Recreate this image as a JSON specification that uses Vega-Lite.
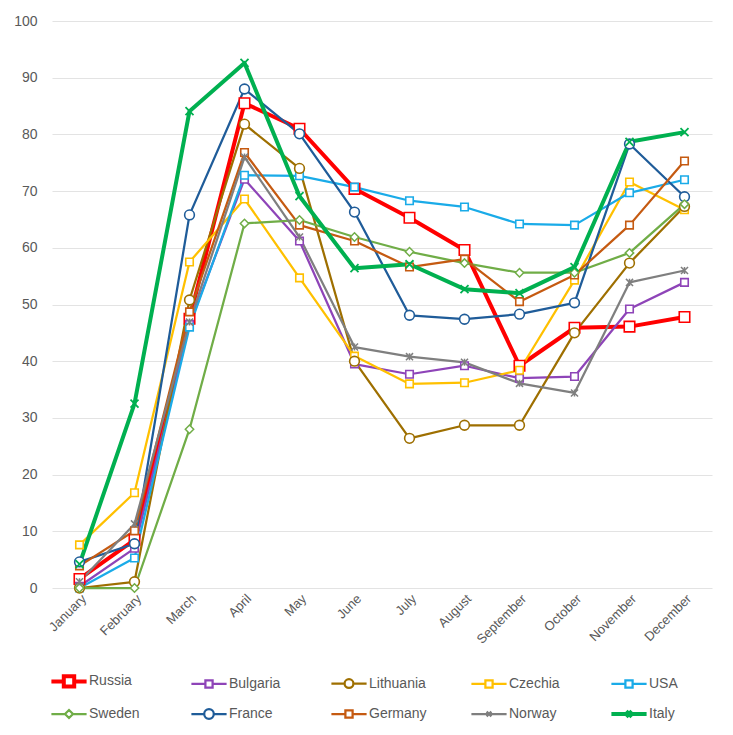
{
  "$schema": "https://vega.github.io/schema/vega-lite/v6.json",
  "width": 660,
  "height": 567,
  "autosize": "none",
  "padding": {"left": 52, "top": 21, "right": 21, "bottom": 147},
  "background": "white",
  "config": {
    "font": "Liberation Sans",
    "view": {"stroke": null},
    "axis": {"labelFont": "Liberation Sans", "labelColor": "#595959", "title": null},
    "legend": {"labelFont": "Liberation Sans", "labelFontSize": 14, "labelColor": "#595959", "symbolOpacity": 1, "symbolStrokeWidth": 2, "symbolSize": 64, "symbolFillColor": "white"}
  },
  "data": {"values": [
    {"m":"January","c":"Russia","v":1.6},{"m":"February","c":"Russia","v":8.5},{"m":"March","c":"Russia","v":47.5},{"m":"April","c":"Russia","v":85.5},{"m":"May","c":"Russia","v":81.0},{"m":"June","c":"Russia","v":70.4},{"m":"July","c":"Russia","v":65.3},{"m":"August","c":"Russia","v":59.6},{"m":"September","c":"Russia","v":39.2},{"m":"October","c":"Russia","v":45.9},{"m":"November","c":"Russia","v":46.1},{"m":"December","c":"Russia","v":47.8},
    {"m":"January","c":"Bulgaria","v":0.3},{"m":"February","c":"Bulgaria","v":7.0},{"m":"March","c":"Bulgaria","v":46.5},{"m":"April","c":"Bulgaria","v":72.1},{"m":"May","c":"Bulgaria","v":61.2},{"m":"June","c":"Bulgaria","v":39.5},{"m":"July","c":"Bulgaria","v":37.7},{"m":"August","c":"Bulgaria","v":39.2},{"m":"September","c":"Bulgaria","v":37.0},{"m":"October","c":"Bulgaria","v":37.3},{"m":"November","c":"Bulgaria","v":49.2},{"m":"December","c":"Bulgaria","v":53.9},
    {"m":"January","c":"Lithuania","v":0},{"m":"February","c":"Lithuania","v":1.1},{"m":"March","c":"Lithuania","v":50.8},{"m":"April","c":"Lithuania","v":81.8},{"m":"May","c":"Lithuania","v":74.0},{"m":"June","c":"Lithuania","v":40.0},{"m":"July","c":"Lithuania","v":26.4},{"m":"August","c":"Lithuania","v":28.7},{"m":"September","c":"Lithuania","v":28.7},{"m":"October","c":"Lithuania","v":45.0},{"m":"November","c":"Lithuania","v":57.3},{"m":"December","c":"Lithuania","v":67.3},
    {"m":"January","c":"Czechia","v":7.6},{"m":"February","c":"Czechia","v":16.8},{"m":"March","c":"Czechia","v":57.5},{"m":"April","c":"Czechia","v":68.6},{"m":"May","c":"Czechia","v":54.7},{"m":"June","c":"Czechia","v":40.9},{"m":"July","c":"Czechia","v":36.0},{"m":"August","c":"Czechia","v":36.2},{"m":"September","c":"Czechia","v":38.4},{"m":"October","c":"Czechia","v":54.3},{"m":"November","c":"Czechia","v":71.6},{"m":"December","c":"Czechia","v":66.7},
    {"m":"January","c":"USA","v":0},{"m":"February","c":"USA","v":5.3},{"m":"March","c":"USA","v":46.0},{"m":"April","c":"USA","v":72.8},{"m":"May","c":"USA","v":72.7},{"m":"June","c":"USA","v":70.7},{"m":"July","c":"USA","v":68.3},{"m":"August","c":"USA","v":67.2},{"m":"September","c":"USA","v":64.2},{"m":"October","c":"USA","v":64.0},{"m":"November","c":"USA","v":69.7},{"m":"December","c":"USA","v":72.0},
    {"m":"January","c":"Sweden","v":0},{"m":"February","c":"Sweden","v":0},{"m":"March","c":"Sweden","v":28.0},{"m":"April","c":"Sweden","v":64.3},{"m":"May","c":"Sweden","v":64.9},{"m":"June","c":"Sweden","v":61.9},{"m":"July","c":"Sweden","v":59.3},{"m":"August","c":"Sweden","v":57.3},{"m":"September","c":"Sweden","v":55.6},{"m":"October","c":"Sweden","v":55.6},{"m":"November","c":"Sweden","v":59.1},{"m":"December","c":"Sweden","v":67.7},
    {"m":"January","c":"France","v":4.6},{"m":"February","c":"France","v":7.8},{"m":"March","c":"France","v":65.8},{"m":"April","c":"France","v":88.0},{"m":"May","c":"France","v":80.1},{"m":"June","c":"France","v":66.3},{"m":"July","c":"France","v":48.1},{"m":"August","c":"France","v":47.4},{"m":"September","c":"France","v":48.3},{"m":"October","c":"France","v":50.3},{"m":"November","c":"France","v":78.3},{"m":"December","c":"France","v":69.0},
    {"m":"January","c":"Germany","v":3.9},{"m":"February","c":"Germany","v":10.1},{"m":"March","c":"Germany","v":48.7},{"m":"April","c":"Germany","v":76.8},{"m":"May","c":"Germany","v":64.0},{"m":"June","c":"Germany","v":61.2},{"m":"July","c":"Germany","v":56.6},{"m":"August","c":"Germany","v":58.0},{"m":"September","c":"Germany","v":50.5},{"m":"October","c":"Germany","v":55.2},{"m":"November","c":"Germany","v":64.0},{"m":"December","c":"Germany","v":75.3},
    {"m":"January","c":"Norway","v":1.1},{"m":"February","c":"Norway","v":11.3},{"m":"March","c":"Norway","v":46.9},{"m":"April","c":"Norway","v":76.0},{"m":"May","c":"Norway","v":61.9},{"m":"June","c":"Norway","v":42.5},{"m":"July","c":"Norway","v":40.8},{"m":"August","c":"Norway","v":39.8},{"m":"September","c":"Norway","v":36.1},{"m":"October","c":"Norway","v":34.4},{"m":"November","c":"Norway","v":53.9},{"m":"December","c":"Norway","v":56.0},
    {"m":"January","c":"Italy","v":4.2},{"m":"February","c":"Italy","v":32.5},{"m":"March","c":"Italy","v":84.1},{"m":"April","c":"Italy","v":92.6},{"m":"May","c":"Italy","v":69.1},{"m":"June","c":"Italy","v":56.4},{"m":"July","c":"Italy","v":57.1},{"m":"August","c":"Italy","v":52.7},{"m":"September","c":"Italy","v":52.0},{"m":"October","c":"Italy","v":56.6},{"m":"November","c":"Italy","v":78.7},{"m":"December","c":"Italy","v":80.4}
  ]},
  "encoding": {
    "x": {"field": "m", "type": "ordinal", "sort": ["January","February","March","April","May","June","July","August","September","October","November","December"],
      "axis": {"labelAngle": -45, "labelFontSize": 13, "domain": false, "ticks": false, "tickSize": 0, "labelPadding": 4, "grid": false}},
    "y": {"field": "v", "type": "quantitative", "scale": {"domain": [0, 100], "nice": false},
      "axis": {"values": [0,10,20,30,40,50,60,70,80,90,100], "labelFontSize": 14, "domain": false, "ticks": false, "tickSize": 0, "labelPadding": 15, "gridColor": "#E3E3E3", "gridWidth": 1}},
    "color": {"field": "c", "type": "nominal",
      "scale": {"domain": ["Russia","Bulgaria","Lithuania","Czechia","USA","Sweden","France","Germany","Norway","Italy"],
        "range": ["#FF0000","#8E44B8","#9E6F00","#FFC000","#1AABE8","#70AD47","#1F5C99","#C55A11","#7F7F7F","#00B050"]},
      "legend": {"title": null, "orient": "none", "direction": "horizontal", "legendX": 10, "legendY": 653, "columns": 5, "columnPadding": 36, "rowPadding": 8, "gridAlign": "all", "labelOffset": 13, "padding": 0}}
  },
  "layer": [
    {"mark": {"type": "line", "strokeJoin": "round"},
      "encoding": {"strokeWidth": {"field": "c", "type": "nominal", "legend": null,
        "scale": {"type": "ordinal", "domain": ["Russia","Bulgaria","Lithuania","Czechia","USA","Sweden","France","Germany","Norway","Italy"], "range": [4,2.25,2.25,2.25,2.25,2.25,2.25,2.25,2.25,4]}}}},
    {"transform": [{"filter": {"field": "c", "oneOf": ["Russia","Bulgaria","Czechia","USA","Germany"]}}],
      "mark": {"type": "point", "shape": "square", "filled": false, "fill": "white", "opacity": 1, "strokeWidth": 1.6},
      "encoding": {"size": {"field": "c", "type": "nominal", "legend": null, "scale": {"type": "ordinal", "domain": ["Russia","Bulgaria","Czechia","USA","Germany"], "range": [110,56,56,56,56]}}}},
    {"transform": [{"filter": {"field": "c", "oneOf": ["Lithuania","France"]}}],
      "mark": {"type": "point", "shape": "circle", "filled": false, "fill": "white", "opacity": 1, "strokeWidth": 1.6, "size": 95}},
    {"transform": [{"filter": {"field": "c", "equal": "Sweden"}}],
      "mark": {"type": "point", "shape": "diamond", "filled": false, "fill": "white", "opacity": 1, "strokeWidth": 1.5, "size": 70}},
    {"transform": [{"filter": {"field": "c", "equal": "Norway"}}],
      "mark": {"type": "point", "shape": "M-1,-1L1,1M-1,1L1,-1M0,-1L0,1", "filled": false, "opacity": 1, "strokeWidth": 1.5, "size": 50}},
    {"transform": [{"filter": {"field": "c", "equal": "Italy"}}],
      "mark": {"type": "point", "shape": "M-1,-1L1,1M-1,1L1,-1", "filled": false, "opacity": 1, "strokeWidth": 1.8, "size": 64}},
    {"transform": [{"filter": {"field": "m", "equal": "January"}}],
      "mark": {"type": "point", "filled": false, "opacity": 0},
      "encoding": {"shape": {"field": "c", "type": "nominal",
        "scale": {"domain": ["Russia","Bulgaria","Lithuania","Czechia","USA","Sweden","France","Germany","Norway","Italy"],
          "range": [
            "M-4.4,0H-1.3M1.3,0H4.4M-1.3,-1.3H1.3V1.3H-1.3Z",
            "M-4.4,0H-0.9M0.9,0H4.4M-0.9,-0.9H0.9V0.9H-0.9Z",
            "M-4.4,0H-1.1M1.1,0H4.4M-1.1,0A1.1,1.1 0 1,0 1.1,0A1.1,1.1 0 1,0 -1.1,0",
            "M-4.4,0H-0.9M0.9,0H4.4M-0.9,-0.9H0.9V0.9H-0.9Z",
            "M-4.4,0H-0.9M0.9,0H4.4M-0.9,-0.9H0.9V0.9H-0.9Z",
            "M-4.4,0H-1M1,0H4.4M-1,0L0,-1L1,0L0,1Z",
            "M-4.4,0H-1.2M1.2,0H4.4M-1.2,0A1.2,1.2 0 1,0 1.2,0A1.2,1.2 0 1,0 -1.2,0",
            "M-4.4,0H-0.9M0.9,0H4.4M-0.9,-0.9H0.9V0.9H-0.9Z",
            "M-4.4,0H4.4M-0.6,-0.6L0.6,0.6M-0.6,0.6L0.6,-0.6",
            "M-4.4,0H4.4M-0.7,-0.7L0.7,0.7M-0.7,0.7L0.7,-0.7"
          ]},
        "legend": {"title": null, "orient": "none", "direction": "horizontal", "legendX": 10, "legendY": 653, "columns": 5, "columnPadding": 36, "rowPadding": 8, "gridAlign": "all", "labelOffset": 13, "padding": 0}}}}
  ]
}
